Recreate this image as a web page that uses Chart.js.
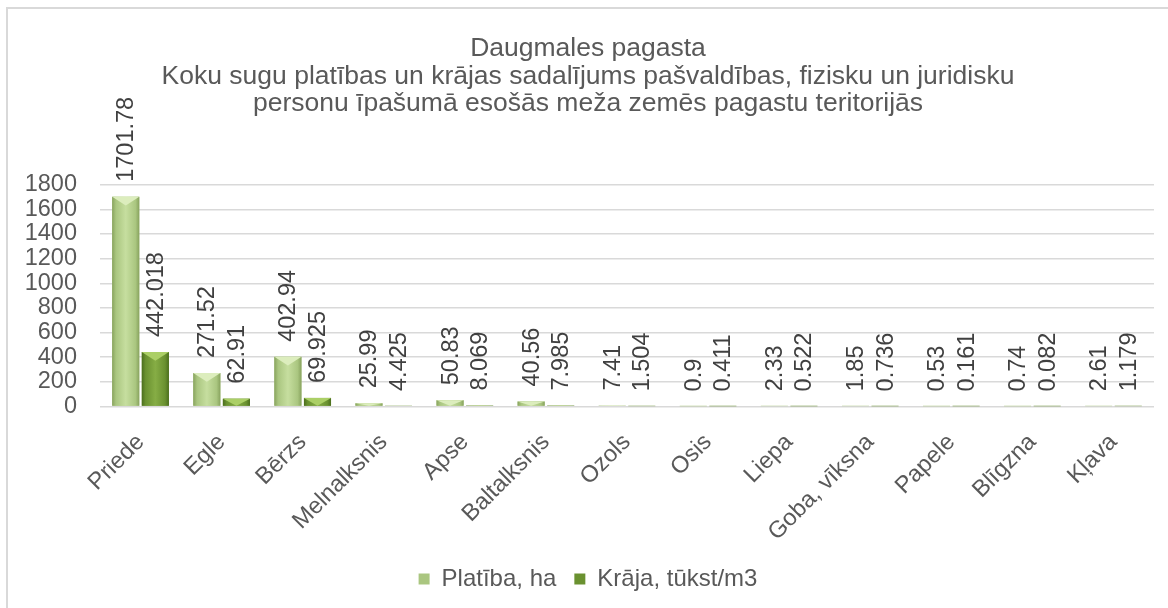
<!DOCTYPE html>
<html>
<head>
<meta charset="utf-8">
<script src="https://cdn.jsdelivr.net/npm/chart.js@4.4.1/dist/chart.umd.min.js"></script>
<style>
  html, body { margin: 0; padding: 0; background: #fff; }
  #wrap { position: relative; width: 1168px; height: 608px; overflow: hidden; }
  #frame { position: absolute; left: 6px; top: 7px; right: -10px; bottom: -10px;
           border-left: 2px solid #d9d9d9; border-top: 2px solid #d9d9d9; }
  canvas { position: absolute; left: 0; top: 0; }
</style>
</head>
<body>
<div id="wrap">
  <div id="frame"></div>
  <canvas id="chart" width="1168" height="608"></canvas>
</div>
<script>
// chart data
const species = ["Priede", "Egle", "Bērzs", "Melnalksnis", "Apse", "Baltalksnis", "Ozols",
  "Osis", "Liepa", "Goba, vīksna", "Papele", "Blīgzna", "Kļava"];
const areaHa = [1701.78, 271.52, 402.94, 25.99, 50.83, 40.56, 7.41, 0.9, 2.33, 1.85, 0.53, 0.74, 2.61];
const stockK = [442.018, 62.91, 69.925, 4.425, 8.069, 7.985, 1.504, 0.411, 0.522, 0.736, 0.161, 0.082, 1.179];
const seriesNames = ["Platība, ha", "Krāja, tūkst/m3"];
const yTicks = [0, 200, 400, 600, 800, 1000, 1200, 1400, 1600, 1800];
const titleLines = [
  "Daugmales pagasta",
  "Koku sugu platības un krājas sadalījums pašvaldības, fizisku un juridisku",
  "personu īpašumā esošās meža zemēs pagastu teritorijās"
];

const FONT = '"Liberation Sans", Arial, sans-serif';
const TEXT = "#595959";

// bevel-ish shading, like the Excel 3D bar style
const palettes = [
  { edge: "#88a35e", body: "#aac680", light: "#c6de9f", top: "#dcedbd" },
  { edge: "#4b6e1d", body: "#6a9130", light: "#86ad45", top: "#abcf66" }
];

const bevelBars = {
  id: "bevelBars",
  afterDatasetsDraw(chart) {
    const ctx = chart.ctx;
    chart.data.datasets.forEach((ds, di) => {
      const pal = palettes[di];
      chart.getDatasetMeta(di).data.forEach((bar) => {
        const { x, y, base, width } = bar.getProps(["x", "y", "base", "width"], true);
        const l = x - width / 2, r = x + width / 2, h = base - y;
        if (h <= 0) return;
        ctx.save();
        const g = ctx.createLinearGradient(l, 0, r, 0);
        g.addColorStop(0, pal.edge);
        g.addColorStop(0.14, pal.body);
        g.addColorStop(0.5, pal.light);
        g.addColorStop(0.86, pal.body);
        g.addColorStop(1, pal.edge);
        ctx.fillStyle = g;
        ctx.fillRect(l, y, width, h);
        const bh = Math.min(width * 0.32, h);
        ctx.beginPath();
        ctx.moveTo(l, y);
        ctx.lineTo(r, y);
        ctx.lineTo(x, y + bh);
        ctx.closePath();
        ctx.fillStyle = pal.top;
        ctx.fill();
        ctx.restore();
      });
    });
  }
};

// vertical value labels above each bar
const valueLabels = {
  id: "valueLabels",
  afterDatasetsDraw(chart) {
    const ctx = chart.ctx;
    ctx.save();
    ctx.font = "23.5px " + FONT;
    ctx.fillStyle = "#404040";
    ctx.textAlign = "left";
    ctx.textBaseline = "middle";
    chart.data.datasets.forEach((ds, di) => {
      chart.getDatasetMeta(di).data.forEach((bar, i) => {
        const { x, y } = bar.getProps(["x", "y"], true);
        ctx.save();
        ctx.translate(x, y - 15);
        ctx.rotate(-Math.PI / 2);
        ctx.fillText(String(ds.data[i]), 0, 1);
        ctx.restore();
      });
    });
    ctx.restore();
  }
};

new Chart(document.getElementById("chart"), {
  type: "bar",
  data: {
    labels: species,
    datasets: [
      { label: seriesNames[0], data: areaHa, backgroundColor: palettes[0].body,
        borderColor: palettes[0].edge, borderWidth: 0 },
      { label: seriesNames[1], data: stockK, backgroundColor: palettes[1].body,
        borderColor: palettes[1].edge, borderWidth: 0 }
    ]
  },
  options: {
    responsive: false,
    animation: false,
    categoryPercentage: 0.73,
    barPercentage: 0.915,
    layout: { padding: { left: 22, right: 14, top: 0, bottom: 7 } },
    scales: {
      x: {
        grid: { display: false },
        border: { display: false },
        ticks: {
          color: TEXT, font: { family: FONT, size: 23.5 },
          maxRotation: 45, minRotation: 45, padding: 14, autoSkip: false
        },
        afterFit(scale) {
          scale.height = 142.5;
          scale.paddingLeft = 0;
          scale.paddingRight = 0;
        }
      },
      y: {
        min: 0, max: 1800,
        afterBuildTicks(scale) { scale.ticks = yTicks.map((v) => ({ value: v })); },
        grid: { color: "#d9d9d9", lineWidth: 1.5, drawTicks: false },
        border: { display: false },
        ticks: {
          color: TEXT, font: { family: FONT, size: 23.5 }, padding: 23, autoSkip: false,
          callback: (v) => String(v)
        },
        afterFit(scale) { scale.width = 78; }
      }
    },
    plugins: {
      title: {
        display: true,
        text: titleLines,
        color: TEXT,
        font: { family: FONT, size: 26.5, weight: "normal", lineHeight: 1.04 },
        padding: { top: 35, bottom: 67 }
      },
      legend: {
        position: "bottom",
        labels: {
          color: TEXT, font: { family: FONT, size: 24 },
          boxWidth: 11, boxHeight: 11, padding: 18
        }
      },
      tooltip: { enabled: false }
    }
  },
  plugins: [bevelBars, valueLabels]
});
</script>
</body>
</html>
